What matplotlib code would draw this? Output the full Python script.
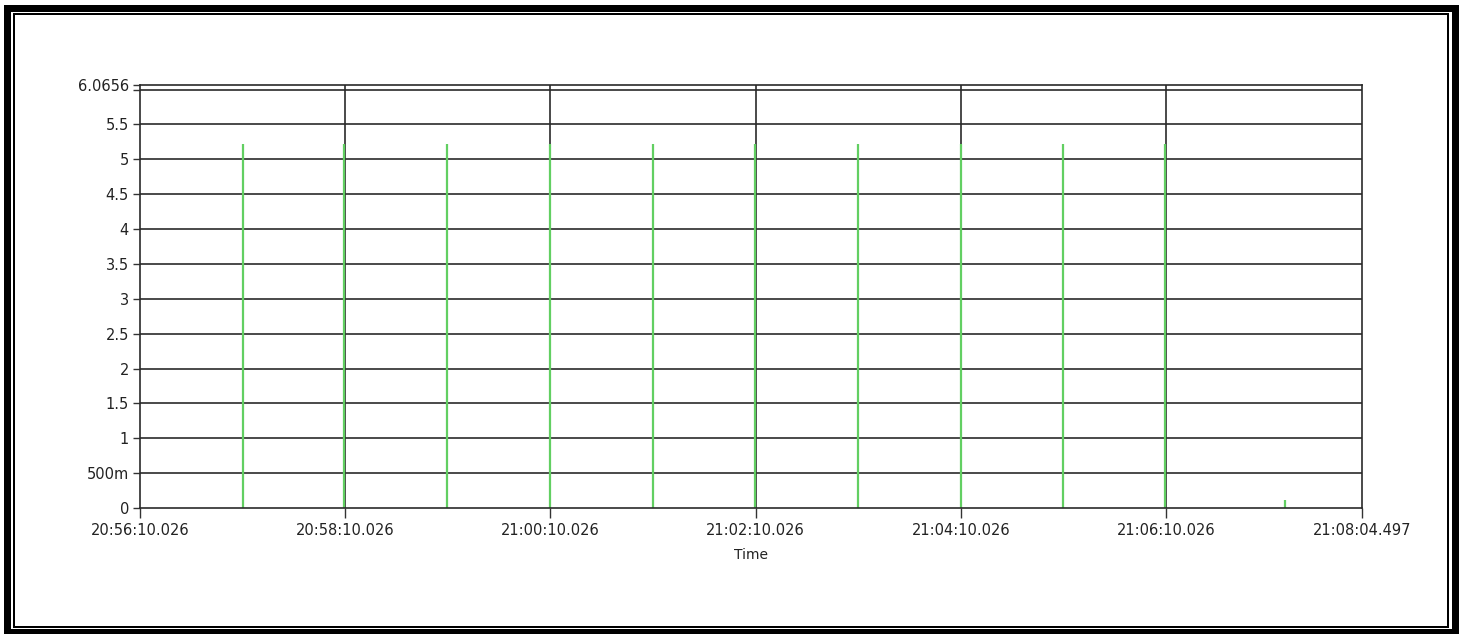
import numpy as np
import matplotlib
matplotlib.use("Agg")
import matplotlib.pyplot as plt
from matplotlib.patches import Rectangle

# time axis in seconds after 20:56:10.026
x_span = 714.471
x_ticks = [0, 120, 240, 360, 480, 600, 714.471]
x_labels = ["20:56:10.026", "20:58:10.026", "21:00:10.026", "21:02:10.026",
            "21:04:10.026", "21:06:10.026", "21:08:04.497"]

y_top = 6.0656
y_ticks = [0, 0.5, 1, 1.5, 2, 2.5, 3, 3.5, 4, 4.5, 5, 5.5, 6, 6.0656]
y_labels = ["0", "500m", "1", "1.5", "2", "2.5", "3", "3.5", "4", "4.5", "5", "5.5", "", "6.0656"]

# spike times (s) and heights
spike_t = [60.0, 119.5, 179.5, 239.5, 300.0, 359.5, 420.0, 480.0, 539.5, 599.5, 669.5]
spike_v = [5.22, 5.22, 5.22, 5.22, 5.22, 5.22, 5.22, 5.22, 5.22, 5.22, 0.11]

W, H = 1464, 634
fig = plt.figure(figsize=(W / 100, H / 100), dpi=100)
fig.patch.set_facecolor("white")

ax = fig.add_axes([140 / W, 1 - 508 / H, (1362 - 140) / W, (508 - 85) / H])
ax.set_xlim(0, x_span)
ax.set_ylim(0, y_top)

# grid lines (drawn first so spikes sit on top)
for y in y_ticks[1:-1]:
    ax.axhline(y, color="#2a2a2a", lw=1.2, zorder=1)
for x in x_ticks[1:-1]:
    ax.axvline(x, color="#2a2a2a", lw=1.2, zorder=1)

ax.vlines(spike_t, 0, spike_v, color="#62cf62", lw=1.6, zorder=2)

ax.set_xticks(x_ticks)
ax.set_xticklabels(x_labels)
ax.set_yticks(y_ticks)
ax.set_yticklabels(y_labels)
ax.tick_params(axis="both", direction="out", width=1, color="#333333",
               labelsize=10.5, labelcolor="#222222")
ax.tick_params(axis="x", length=7, pad=4)
ax.tick_params(axis="y", length=5, pad=3)
for s in ax.spines.values():
    s.set_color("#2a2a2a")
    s.set_linewidth(1.2)

ax.set_xlabel("Time", fontsize=10, color="#222222", labelpad=7)

# picture frame: thick outer border and thin inner line
def px_rect(x0, y0, x1, y1, lw):
    r = Rectangle((x0 / W, 1 - y1 / H), (x1 - x0) / W, (y1 - y0) / H,
                  transform=fig.transFigure, fill=False, edgecolor="black",
                  linewidth=lw * 0.72)
    fig.add_artist(r)

px_rect(7.5, 8, 1455, 632, 7)
px_rect(14, 14, 1448, 627, 2)

fig.savefig("out.png", dpi=100, facecolor="white")
